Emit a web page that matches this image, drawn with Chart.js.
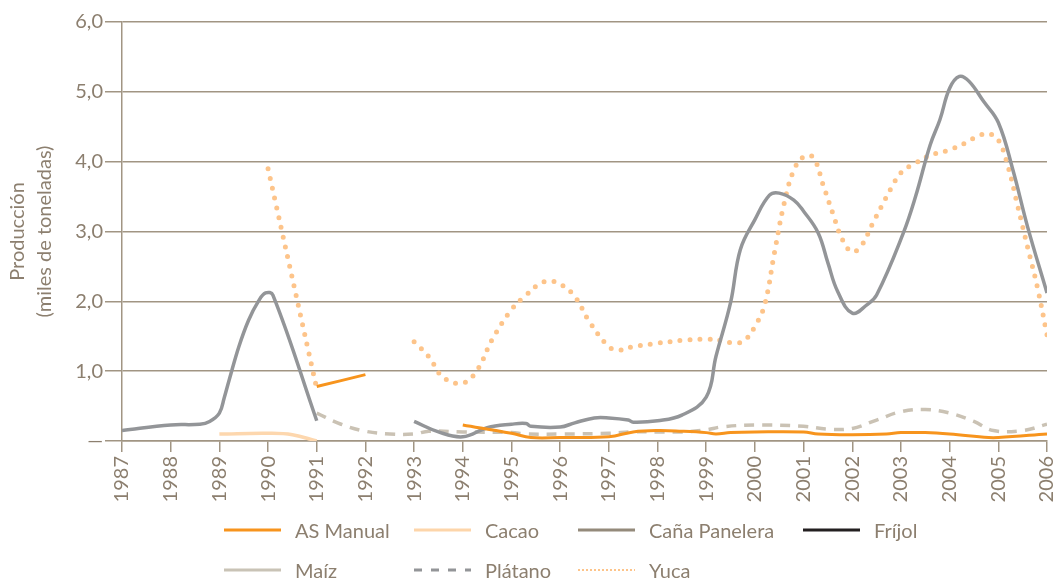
<!DOCTYPE html>
<html>
<head>
<meta charset="utf-8">
<script src="https://cdn.jsdelivr.net/npm/chart.js@4.4.1/dist/chart.umd.min.js"></script>
<style>
  body{margin:0;background:#fff;font-family:Lato,"Open Sans",sans-serif;}
  #wrap{position:relative;width:1054px;height:581px;}
  #legend{position:absolute;left:0;top:0;width:1054px;height:581px;pointer-events:none;}
  .item{position:absolute;display:flex;align-items:center;color:#8c7f6f;font-size:20px;white-space:nowrap;}
  .item svg{margin-right:14px;}
</style>
</head>
<body>
<div id="wrap">
  <canvas id="chart" width="1054" height="505"></canvas>
  <div id="legend"></div>
</div>
<script>
// years on x, production (thousand tons) on y; null = no data
const asManualX = [1991, 1992, 1993, 1994, 1995, 1995.4, 1996, 1997, 1997.5, 1998, 1998.5, 1999, 1999.2, 1999.5, 2000, 2001, 2001.3, 2002, 2002.7, 2003, 2003.5, 2004, 2004.8, 2005, 2006];
const asManualY = [0.78, 0.95, null, 0.23, 0.11, 0.05, 0.05, 0.06, 0.13, 0.15, 0.14, 0.12, 0.10, 0.12, 0.13, 0.13, 0.10, 0.09, 0.10, 0.12, 0.12, 0.10, 0.05, 0.05, 0.10];

const cacaoX = [1989, 1990, 1990.5, 1991];
const cacaoY = [0.10, 0.11, 0.09, 0.0];

const canaX = [1987, 1988, 1988.6, 1988.8, 1989, 1989.1, 1989.2, 1989.4, 1989.6, 1989.8, 1989.95, 1990.1, 1991, 1992,
  1993, 1993.5, 1994, 1994.5, 1995, 1995.3, 1995.4, 1996, 1996.3, 1996.7, 1997, 1997.4, 1997.5, 1998, 1998.5, 1999, 1999.2, 1999.5, 1999.7,
  2000, 2000.3, 2000.5, 2000.8, 2001, 2001.3, 2001.5, 2001.7, 2002, 2002.3, 2002.5, 2003.05, 2003.3, 2003.6, 2003.8, 2004, 2004.2, 2004.4, 2004.7, 2005, 2005.3, 2005.6, 2006];
const canaY = [0.15, 0.23, 0.24, 0.28, 0.40, 0.62, 0.87, 1.35, 1.73, 2.0, 2.12, 2.09, 0.29, null,
  0.28, 0.13, 0.06, 0.19, 0.24, 0.25, 0.21, 0.20, 0.26, 0.33, 0.33, 0.30, 0.27, 0.29, 0.37, 0.63, 1.21, 1.98, 2.74,
  3.17, 3.52, 3.55, 3.45, 3.29, 2.98, 2.55, 2.14, 1.83, 1.95, 2.09, 2.98, 3.5, 4.24, 4.6, 5.05, 5.22, 5.15, 4.86, 4.56, 3.88, 3.07, 2.12];

const frijolX = [];
const frijolY = [];

const maizX = [];
const maizY = [];

const platanoX = [1991, 1991.5, 1992, 1992.5, 1993, 1993.3, 1994, 1995, 1995.3, 1996, 1997, 1997.5, 1998, 1998.5, 1999, 1999.3, 2000, 2001, 2001.5, 2002, 2002.5, 2003, 2003.5, 2004, 2004.5, 2004.9, 2005.5, 2006];
const platanoY = [0.40, 0.24, 0.14, 0.10, 0.10, 0.14, 0.13, 0.12, 0.10, 0.10, 0.11, 0.13, 0.13, 0.13, 0.16, 0.20, 0.23, 0.21, 0.17, 0.18, 0.30, 0.42, 0.45, 0.40, 0.28, 0.15, 0.15, 0.24];

const yucaX = [1990, 1991, 1992,
  1993, 1993.3, 1993.6, 1994, 1994.3, 1994.6, 1995, 1995.3, 1995.6, 1995.8, 1996, 1996.3, 1996.6, 1997, 1997.2, 1997.5, 1998, 1998.5, 1999, 1999.3, 1999.6, 1999.8,
  2000, 2000.2, 2000.4, 2000.6, 2000.8, 2001, 2001.2, 2001.4, 2001.6, 2001.8, 2002, 2002.2, 2002.4, 2002.6, 2002.8, 2003, 2003.3, 2003.6, 2004, 2004.3, 2004.6, 2004.8,
  2005, 2005.2, 2005.4, 2005.6, 2005.8, 2006];
const yucaY = [3.9, 0.75, null,
  1.42, 1.21, 0.91, 0.83, 1.02, 1.45, 1.88, 2.09, 2.26, 2.29, 2.25, 2.07, 1.71, 1.35, 1.30, 1.35, 1.40, 1.44, 1.46, 1.44, 1.40, 1.45,
  1.64, 1.95, 2.69, 3.4, 3.88, 4.07, 4.06, 3.67, 3.26, 2.88, 2.71, 2.81, 3.09, 3.36, 3.62, 3.84, 3.98, 4.09, 4.17, 4.26, 4.37, 4.40,
  4.31, 3.93, 3.36, 2.78, 2.21, 1.52];

const yTicks = ['—', '1,0', '2,0', '3,0', '4,0', '5,0', '6,0'];

const textColor = '#8c7f6f';
const gridColor = '#a19583';

function pts(xs, ys){
  const out = [];
  for(let i=0;i<xs.length;i++) out.push({x: xs[i], y: ys[i]});
  return out;
}

const datasets = [
  {label:'AS Manual', data: pts(asManualX, asManualY), borderColor:'#f7941d', borderWidth:3},
  {label:'Cacao', data: pts(cacaoX, cacaoY), borderColor:'#fdd7ae', borderWidth:3.5},
  {label:'Caña Panelera', data: pts(canaX, canaY), borderColor:'#939598', borderWidth:3.5},
  {label:'Fríjol', data: pts(frijolX, frijolY), borderColor:'#231f20', borderWidth:3},
  {label:'Maíz', data: pts(maizX, maizY), borderColor:'#c9c3b6', borderWidth:3},
  {label:'Plátano', data: pts(platanoX, platanoY), borderColor:'#cac2b4', borderWidth:3.5, borderDash:[10,8]},
  {label:'Yuca', data: pts(yucaX, yucaY), borderColor:'#fdc48a', borderWidth:5, borderDash:[0,10], borderCapStyle:'round'}
];
for(const ds of datasets){
  ds.pointRadius = 0;
  ds.pointHoverRadius = 0;
  ds.fill = false;
  ds.spanGaps = false;
  ds.tension = 0.4;
}

new Chart(document.getElementById('chart').getContext('2d'), {
  type: 'line',
  data: {datasets: datasets},
  options: {
    responsive: false,
    animation: false,
    layout: {padding: {top: 22, right: 7, left: 0, bottom: 0}},
    plugins: {legend: {display: false}, tooltip: {enabled: false}},
    scales: {
      x: {
        type: 'linear', min: 1987, max: 2006,
        border: {color: gridColor, width: 1.5},
        grid: {drawOnChartArea: false, drawTicks: true, tickLength: 11, color: gridColor, lineWidth: 1.5},
        ticks: {
          stepSize: 1, autoSkip: false, minRotation: 90, maxRotation: 90, padding: 4,
          color: textColor, font: {family: 'Lato', size: 20},
          callback: v => String(v)
        },
        afterFit: s => { s.height = 64; s.paddingLeft = 0; s.paddingRight = 0; }
      },
      y: {
        min: 0, max: 6,
        border: {color: gridColor, width: 1.5},
        grid: {color: gridColor, lineWidth: 1.5, tickLength: 17},
        ticks: {
          stepSize: 1, padding: 2, color: textColor, font: {family: 'Lato', size: 20},
          callback: v => yTicks[v]
        },
        title: {
          display: true, text: ['Producción', '(miles de toneladas)'],
          color: textColor, font: {family: 'Lato', size: 20, lineHeight: 1.35}, padding: {top: 4, bottom: 0}
        },
        afterFit: s => { s.width = 122; s.paddingTop = 0; s.paddingBottom = 0; }
      }
    }
  }
});

// legend laid out in a grid like the original
const legendItems = [
  {label:'AS Manual', color:'#f7941d', dash:'', width:3, col:0, row:0},
  {label:'Cacao', color:'#fdd5aa', dash:'', width:3, col:1, row:0},
  {label:'Caña Panelera', color:'#948a7b', dash:'', width:3, col:2, row:0},
  {label:'Fríjol', color:'#231f20', dash:'', width:3, col:3, row:0},
  {label:'Maíz', color:'#c9c3b6', dash:'', width:3, col:0, row:1},
  {label:'Plátano', color:'#939598', dash:'8 9', width:3, col:1, row:1},
  {label:'Yuca', color:'#fdc48a', dash:'2 2', width:2, col:2, row:1}
];
const colLeft = [224, 414, 578, 803];
const rowMid = [530, 570];
const legend = document.getElementById('legend');
for(const it of legendItems){
  const d = document.createElement('div');
  d.className = 'item';
  d.style.left = colLeft[it.col] + 'px';
  d.style.top = (rowMid[it.row] - 14) + 'px';
  d.style.height = '28px';
  d.innerHTML = '<svg width="57" height="6"><line x1="0" y1="3" x2="57" y2="3" stroke="' + it.color +
    '" stroke-width="' + it.width + '"' + (it.dash ? ' stroke-dasharray="' + it.dash + '"' : '') + '/></svg>' +
    '<span>' + it.label + '</span>';
  legend.appendChild(d);
}
</script>
</body>
</html>
